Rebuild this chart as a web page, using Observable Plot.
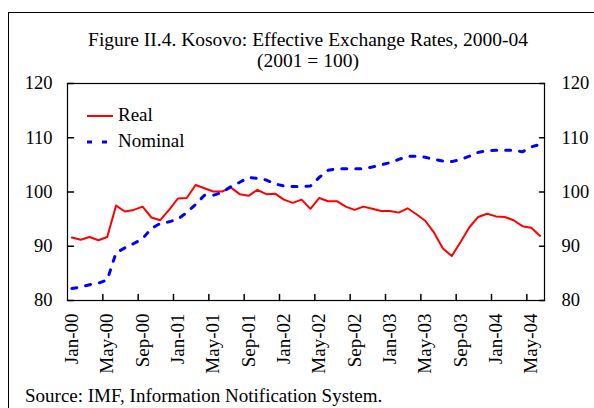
<!DOCTYPE html>
<html><head><meta charset="utf-8">
<script src="https://cdn.jsdelivr.net/npm/d3@7"></script>
<script src="https://cdn.jsdelivr.net/npm/@observablehq/plot@0.6"></script>
<style>
body{margin:0;width:594px;height:408px;overflow:hidden;background:#fff;font-family:"Liberation Serif","Times New Roman",serif;color:#000;}
#wrap{position:relative;width:594px;height:408px;overflow:hidden;}
#frame{position:absolute;left:8px;top:12px;width:700px;height:500px;border-left:1px solid #000;border-top:1px solid #000;}
#title{position:absolute;left:0;width:616px;top:29px;text-align:center;font-size:19.5px;line-height:21px;}
#chart{position:absolute;left:0;top:70px;}
#legend{position:absolute;left:87px;top:104px;font-size:19px;}
.lg{position:absolute;white-space:nowrap;}
#caption{position:absolute;left:25px;top:386px;font-size:19px;line-height:20px;white-space:nowrap;}
</style></head>
<body>
<div id="wrap">
  <div id="frame"></div>
  <div id="title">Figure II.4. Kosovo: Effective Exchange Rates, 2000-04<br>(2001 = 100)</div>
  <div id="chart"></div>
  <div id="legend"></div>
  <div id="caption">Source: IMF, Information Notification System.</div>
</div>
<script>
// Monthly index values, Jan-2000 .. Jun-2004
const real = [91.6, 91.2, 91.7, 91.1, 91.7, 97.5, 96.4, 96.7, 97.3, 95.3, 94.8, 96.7,
  98.8, 98.9, 101.3, 100.7, 100.1, 100.1, 100.8, 99.6, 99.3, 100.4, 99.6, 99.7,
  98.6, 98.0, 98.6, 96.9, 98.9, 98.3, 98.3, 97.3, 96.7, 97.3, 96.9, 96.5,
  96.5, 96.2, 97.0, 95.9, 94.7, 92.5, 89.6, 88.2, 90.8, 93.5, 95.4, 96.0,
  95.5, 95.4, 94.8, 93.7, 93.4, 91.9];
const nominal = [82.2, 82.5, 82.9, 83.2, 83.8, 88.8, 89.7, 90.5, 91.4, 93.3, 94.2, 94.5,
  95.0, 96.2, 97.7, 99.4, 99.4, 99.9, 101.0, 101.8, 102.7, 102.5, 102.2, 101.5,
  101.1, 101.0, 101.0, 101.1, 102.7, 104.0, 104.3, 104.3, 104.3, 104.3, 104.6, 105.0,
  105.4, 106.0, 106.6, 106.6, 106.4, 106.0, 105.7, 105.6, 106.0, 106.6, 107.3, 107.6,
  107.7, 107.7, 107.7, 107.4, 108.3, 108.8];
const tickLabels = ["Jan-00","May-00","Sep-00","Jan-01","May-01","Sep-01","Jan-02",
  "May-02","Sep-02","Jan-03","May-03","Sep-03","Jan-04","May-04"];
const yTicks = [80, 90, 100, 110, 120];
const seriesNames = ["Real", "Nominal"];
const seriesColors = ["#ff0000", "#0000ff"];

const n = real.length;
const data = real.map((r, i) => ({i, real: r, nominal: nominal[i]}));
const labelIdx = tickLabels.map((_, k) => k * 4);
const bounds = d3.range(4, n, 4).map(k => k - 0.5);
const tickShape = {draw(ctx, l) { ctx.moveTo(0, 0); ctx.lineTo(0, -l); }};
const font = '"Liberation Serif","Times New Roman",serif';

const chart = Plot.plot({
  width: 594, height: 310,
  marginLeft: 67, marginRight: 50, marginTop: 13, marginBottom: 80,
  x: {domain: [-0.5, n - 0.5]},
  y: {domain: [80, 120]},
  style: {fontFamily: font, fontSize: "18.5px", color: "#000", background: "transparent", overflow: "visible"},
  marks: [
    Plot.vector(bounds, {x: d => d, y: 80, length: 6, anchor: "start", shape: tickShape, stroke: "#000"}),
    Plot.vector(yTicks, {x: -0.5, y: d => d, length: 6, rotate: 90, anchor: "start", shape: tickShape, stroke: "#000"}),
    Plot.vector(yTicks, {x: n - 0.5, y: d => d, length: 5, rotate: -90, anchor: "start", shape: tickShape, stroke: "#000"}),
    Plot.axisY({anchor: "left", ticks: yTicks, tickSize: 0, tickPadding: 15, label: null}),
    Plot.axisY({anchor: "right", ticks: yTicks, tickSize: 0, tickPadding: 17, label: null}),
    Plot.axisX({ticks: labelIdx, tickFormat: d => tickLabels[Math.round(d / 4)], tickRotate: -90, tickSize: 0, tickPadding: 13, label: null, fontSize: 19}),
    Plot.line(data, {x: "i", y: "real", stroke: seriesColors[0], strokeWidth: 2}),
    Plot.line(data, {x: "i", y: "nominal", stroke: seriesColors[1], strokeWidth: 3, strokeDasharray: "5,9"}),
    Plot.frame({stroke: "#000", strokeWidth: 1.2})
  ]
});
document.getElementById("chart").appendChild(chart);

// legend
const lg = document.getElementById("legend");
seriesNames.forEach((name, k) => {
  const top = k * 26;
  const sw = document.createElementNS("http://www.w3.org/2000/svg", "svg");
  sw.setAttribute("width", 28); sw.setAttribute("height", 10);
  sw.style.position = "absolute"; sw.style.left = "0px"; sw.style.top = (top + 7) + "px";
  const ln = document.createElementNS("http://www.w3.org/2000/svg", "line");
  ln.setAttribute("x1", 0); ln.setAttribute("x2", 26); ln.setAttribute("y1", 5); ln.setAttribute("y2", 5);
  ln.setAttribute("stroke", seriesColors[k]);
  ln.setAttribute("stroke-width", k === 0 ? 2 : 3);
  if (k === 1) ln.setAttribute("stroke-dasharray", "5,10");
  sw.appendChild(ln);
  lg.appendChild(sw);
  const t = document.createElement("div");
  t.className = "lg"; t.textContent = name;
  t.style.left = "31px"; t.style.top = (top + 1) + "px";
  t.style.lineHeight = "20px";
  lg.appendChild(t);
});
</script>
</body></html>
